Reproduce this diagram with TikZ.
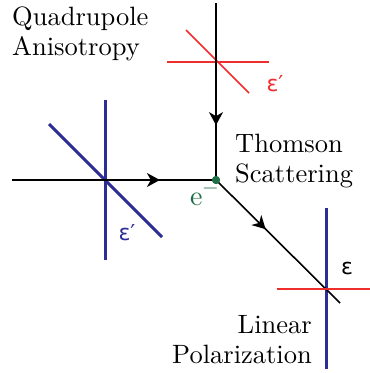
\documentclass[tikz,border=0pt]{standalone}
\usepackage{fontspec}
\setmainfont{lmroman10-regular}[Extension=.otf]
\newfontfamily\grk{DejaVu Sans}
\usetikzlibrary{arrows.meta,decorations.markings}
\definecolor{polblue}{RGB}{45,45,150}
\definecolor{polred}{RGB}{240,45,45}
\definecolor{egreen}{RGB}{30,110,70}
\begin{document}
\begin{tikzpicture}[x=1pt,y=-1pt,
  ray/.style={line width=1.6pt, black},
  midarrow/.style={postaction=decorate, decoration={markings, mark=at position #1 with {\arrow{Stealth[length=13pt,width=14pt,inset=4pt]}}}},
  blueline/.style={polblue,line width=3pt},
  redline/.style={polred,line width=1.5pt},
  lbl/.style={font=\fontsize{26.5}{30}\selectfont, inner sep=0pt},
  glbl/.style={font=\fontsize{22}{26}\grk, inner sep=0pt},
]
\useasboundingbox (0,0) rectangle (370,373);
% points
\coordinate (in0) at (12,180);
\coordinate (top) at (216,3);
\coordinate (out) at (340,303);
\coordinate (A) at (105,180);
\coordinate (B) at (216,62);
\coordinate (C) at (326,289);
% polarization crosses
\draw[blueline] (A) ++(0,-80) -- ++(0,160);
\draw[blueline] (A) ++(-56,-56) -- ++(113,113);
\draw[redline] (B) ++(-49,0) -- ++(102,0);
\draw[redline] (B) ++(-30,-32) -- ++(63,63);
\draw[blueline] (C) ++(0,-81) -- ++(0,161);
% electron
\node[circle, fill=egreen, inner sep=0pt, minimum size=8pt] (s) at (216,180) {};
% rays
\draw[ray, midarrow=0.725] (in0) -- (s.center);
\draw[ray, midarrow=0.69] (top) -- (s.center);
\draw[ray, midarrow=0.40] (s.center) -- (out);
\draw[redline] (C) ++(-49,0) -- ++(94,0);
\node[circle, fill=egreen, inner sep=0pt, minimum size=8pt] at (s) {};
% labels
\node[lbl, align=left, anchor=north west] (quad) at (12,6.6) {Quadrupole\\Anisotropy};
\node[lbl, align=left, anchor=north west] (thom) at (235,133.6) {Thomson\\Scattering};
\node[lbl, align=right, anchor=north east] (lin) at (312,315) {Linear\\Polarization};
\node[glbl, text=polred] (epsr) at (275,84) {ε′};
\node[glbl, text=polblue] (epsb) at (127,233) {ε′};
\node[glbl] (eps) at (347,268) {ε};
\node[font=\fontsize{28}{30}\selectfont, inner sep=0pt, anchor=base west, text=egreen] (elab) at (190,205) {e\raisebox{0.42em}{\fontsize{20}{22}\selectfont −}};
\end{tikzpicture}
\end{document}
